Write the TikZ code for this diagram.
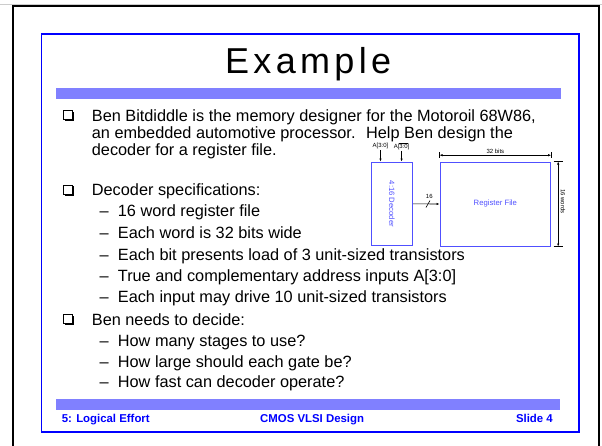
\documentclass[tikz,border=0pt]{standalone}
\usepackage{fontspec}
\setmainfont{Liberation Sans}
\newfontfamily\titlefont[LetterSpace=12]{Liberation Sans}
\usetikzlibrary{arrows.meta,calc}

\definecolor{slideblue}{RGB}{0,0,255}
\definecolor{boxblue}{RGB}{80,80,255}
\definecolor{ditherblue}{RGB}{128,128,255}

\newcommand{\ovl}[1]{$\overline{\mbox{#1}}$}

\tikzset{
	bodytext/.style={anchor=base west, inner sep=0pt, font=\fontsize{16.3}{18}\selectfont},
	foottext/.style={anchor=base west, inner sep=0pt, text=slideblue, font=\bfseries\fontsize{11.4}{13}\selectfont},
	tinytext/.style={inner sep=0pt, font=\fontsize{6}{7}\selectfont},
	boxtext/.style={inner sep=0pt, text=boxblue, font=\fontsize{7.7}{9}\selectfont},
	blockbox/.style={draw=boxblue, line width=1pt, inner sep=0pt},
	dimline/.style={{Latex[length=3pt,width=2.4pt]}-{Latex[length=3pt,width=2.4pt]}, line width=0.6pt},
	inarrow/.style={-{Latex[length=3pt,width=2.4pt]}, line width=0.6pt}
}

\begin{document}
\begin{tikzpicture}[x=1pt, y=-1pt]
	\useasboundingbox (0,0) rectangle (602,445);
	% Rahmen
	\begin{scope}
		\clip (0,0) rectangle (602,445);
		\draw [gray!40, line width=1pt] (0,4.2) -- (602,4.2);
		\draw [line width=2pt] (13,6) rectangle (599.3,460);
	\end{scope}
	\draw [slideblue, line width=1.8pt] (41.5,34.2) rectangle (578.8,432);
	% Titel
	\node [anchor=base west, inner sep=0pt, font=\titlefont\fontsize{36}{40}\selectfont] (title) at (225,73.3) {Example};
	\fill [ditherblue] (56,88) rectangle (561,99);
	\fill [ditherblue] (56,399) rectangle (560,410);
	% Kaestchen
	\foreach \y in {121,195.7,325} {
		\draw [line width=0.9pt] (63.8,\y-10.2) rectangle (72.3,\y-1.7);
		\draw [line width=1.6pt] (64.8,\y-0.8) -- (73.2,\y-0.8) -- (73.2,\y-9.3);
	}
	% Text
	\node [bodytext] (intro1) at (91.7,121) {Ben Bitdiddle is the memory designer for the Motoroil 68W86,};
	\node [bodytext] (intro2) at (91.7,138.3) {an embedded automotive processor.~ Help Ben design the};
	\node [bodytext] (intro3) at (91.7,155) {decoder for a register file.};
	\node [bodytext] (spec) at (91.7,195.7) {Decoder specifications:};
	\node [bodytext] (decide) at (91.7,325) {Ben needs to decide:};
	\foreach \txt/\y [count=\i] in {{16 word register file}/216.7, {Each word is 32 bits wide}/238,
		{Each bit presents load of 3 unit-sized transistors}/260,
		{True and complementary address inputs A[3:0]}/281.5,
		{Each input may drive 10 unit-sized transistors}/302.5,
		{How many stages to use?}/346.7, {How large should each gate be?}/367.3,
		{How fast can decoder operate?}/387.7} {
		\node [bodytext] (dash\i) at (99.5,\y) {–};
		\node [bodytext] (item\i) at (117.7,\y) {\txt};
	}
	% Decoder und Registerdatei
	\node [blockbox, minimum width=41.7pt, minimum height=83.7pt] (dec) at (391.85,203.85) {};
	\node [boxtext, rotate=-90] (declabel) at (dec.center) {4:16 Decoder};
	\node [blockbox, minimum width=110.7pt, minimum height=84pt] (reg) at (495.35,204) {};
	\node [boxtext] (reglabel) at (reg.center) {Register File};
	% Eingaenge
	\node [tinytext] (atrue) at (380.5,146) {A[3:0]};
	\node [tinytext] (acomp) at (401.6,146) {A[\ovl{3:0}]};
	\draw [inarrow] ([yshift=-1pt]atrue.south) -- (atrue |- dec.north);
	\draw [inarrow] ([yshift=-1pt]acomp.south) -- (acomp |- dec.north);
	% Bus
	\draw [inarrow] (dec.east) -- (reg.west);
	\coordinate (busmid) at (428,204);
	\draw [line width=0.6pt] (busmid) ++(-2,3.5) -- ++(4,-7);
	\node [tinytext] (buswidth) at (429.3,196.2) {16};
	% Masse
	\coordinate (bitsL) at ($(reg.north west)+(0,-6.3)$);
	\coordinate (bitsR) at ($(reg.north east)+(0,-6.3)$);
	\draw [dimline] (bitsL) -- (bitsR);
	\draw [line width=0.6pt] (bitsL) ++(0,-3) -- ++(0,6);
	\draw [line width=0.6pt] (bitsR) ++(0,-3) -- ++(0,6);
	\node [tinytext, above=1.5pt] (bits) at ($(bitsL)!0.5!(bitsR)$) {32 bits};
	\coordinate (wordsT) at ($(reg.north east)+(7,0)$);
	\coordinate (wordsB) at ($(reg.south east)+(7,0)$);
	\draw [dimline] (wordsT) -- (wordsB);
	\draw [line width=0.6pt] (wordsT) ++(-4.5,0) -- ++(9,0);
	\draw [line width=0.6pt] (wordsB) ++(-4.5,0) -- ++(9,0);
	\node [tinytext, rotate=-90, anchor=south] (words) at ($(wordsT)!0.47!(wordsB)+(2.5,0)$) {16 words};
	% Fusszeile
	\node [foottext] (ftleft) at (61.7,422.3) {5: Logical Effort};
	\node [foottext] (ftmid) at (260,422.3) {CMOS VLSI Design};
	\node [foottext, anchor=base east] (ftright) at (553,422.3) {Slide 4};
\end{tikzpicture}
\end{document}
